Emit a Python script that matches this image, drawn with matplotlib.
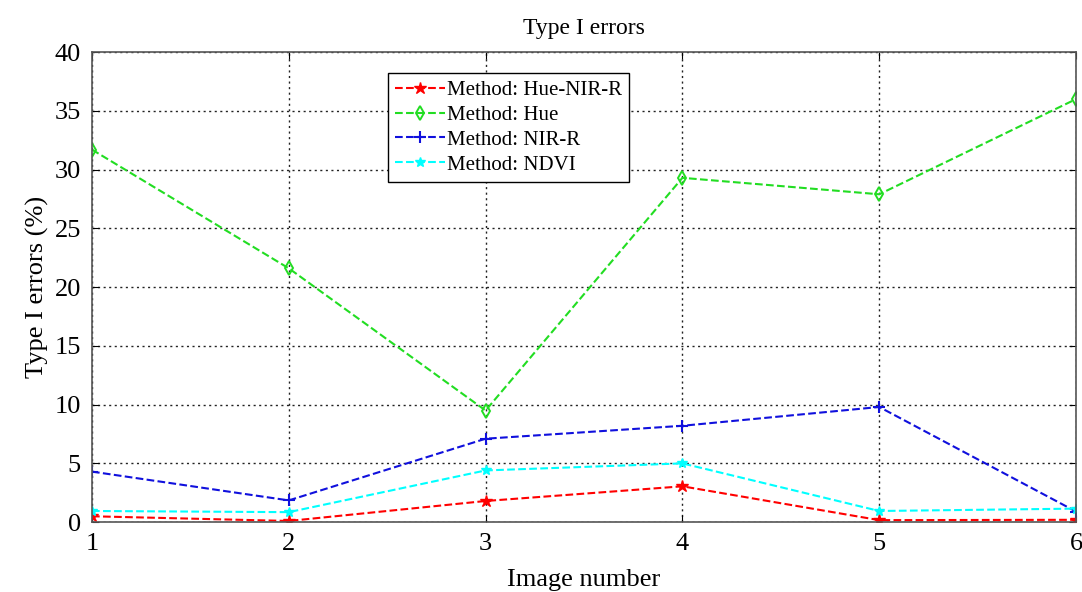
import matplotlib
matplotlib.use("Agg")
import matplotlib.pyplot as plt

plt.rcParams["font.family"] = ["Liberation Serif", "DejaVu Serif"]

images = [1, 2, 3, 4, 5, 6]
hue_nir_r = [0.5, 0.1, 1.8, 3.05, 0.17, 0.2]
hue = [31.7, 21.6, 9.5, 29.3, 27.9, 36.0]
nir_r = [4.3, 1.85, 7.1, 8.2, 9.8, 0.9]
ndvi = [0.95, 0.85, 4.4, 5.0, 0.95, 1.15]

fig = plt.figure(figsize=(10.82, 5.92), dpi=100)
ax = fig.add_axes([0.085, 0.118, 0.9095, 0.794])

ax.plot(images, hue_nir_r, "r--", marker="*", ms=9, lw=1.5, label="Method: Hue-NIR-R")
ax.plot(images, hue, "--", color="#22dd22", marker="d", ms=7, mfc="none", mew=1.4, lw=1.5, label="Method: Hue")
ax.plot(images, nir_r, "--", color="#1010dd", marker="+", ms=9, mew=1.5, lw=1.5, label="Method: NIR-R")
ax.plot(images, ndvi, "--", color="cyan", marker="*", ms=7, lw=1.5, label="Method: NDVI")

ax.set_xlim(1, 6)
ax.set_ylim(0, 40)
ax.set_xticks(images)
ax.set_yticks(range(0, 41, 5))
ax.tick_params(direction="in", labelsize=19, length=5, top=True, right=True, pad=8)
ax.grid(True, color="#222222", linestyle=(0, (1.5, 2.5)), lw=1.0)
for s in ax.spines.values():
    s.set_color("#555555")
    s.set_linewidth(1.2)

ax.set_title("Type I errors", fontsize=17, pad=13)
ax.set_xlabel("Image number", fontsize=19, labelpad=10)
ax.set_ylabel("Type I errors (%)", fontsize=19, labelpad=4)

leg = ax.legend(loc="upper left", bbox_to_anchor=(0.29, 0.977), fontsize=15,
                fancybox=False, framealpha=1, edgecolor="black",
                handlelength=2.4, handletextpad=0.1, borderpad=0.35, labelspacing=0.25)
leg.get_frame().set_linewidth(1.0)

fig.savefig("out.png", dpi=100)
